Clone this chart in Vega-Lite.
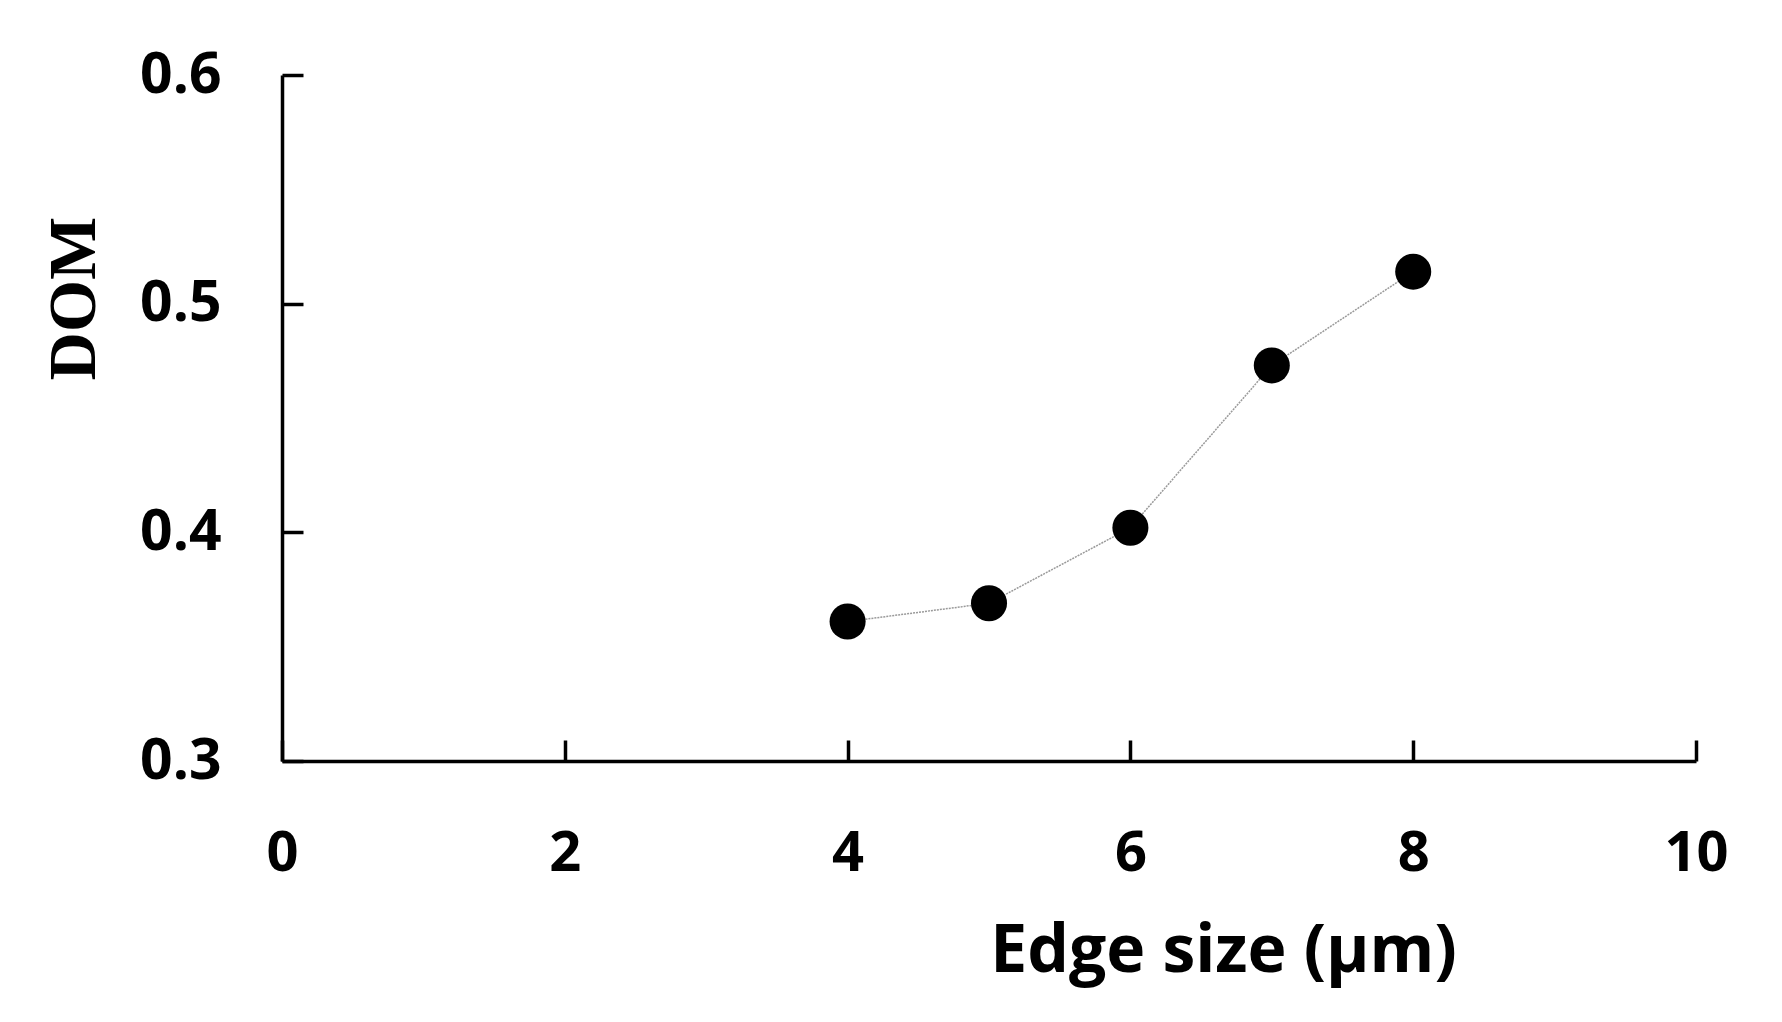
{
  "$schema": "https://vega.github.io/schema/vega-lite/v6.json",
  "width": 1414,
  "height": 686,
  "autosize": {"type": "none"},
  "padding": {"left": 282, "top": 75, "right": 86, "bottom": 261},
  "background": "white",
  "config": {"view": {"stroke": null}},
  "data": {"values": [
    {"edge": 4, "dom": 0.361},
    {"edge": 5, "dom": 0.369},
    {"edge": 6, "dom": 0.402},
    {"edge": 7, "dom": 0.473},
    {"edge": 8, "dom": 0.514}
  ]},
  "encoding": {
    "x": {"field": "edge", "type": "quantitative",
      "scale": {"domain": [0, 10], "nice": false, "zero": false},
      "axis": {"values": [0, 2, 4, 6, 8, 10], "format": "d", "grid": false,
        "domainColor": "black", "domainWidth": 3.5, "tickColor": "black", "tickWidth": 3.5, "tickSize": -21,
        "labelFont": "Open Sans", "labelFontWeight": "bold", "labelFontSize": 56, "labelColor": "black",
        "labelPadding": 86, "labelFlush": false,
        "title": "Edge size (µm)", "titleFont": "Open Sans", "titleFontWeight": "bold", "titleFontSize": 66,
        "titleColor": "black", "titleX": 941, "titleY": 210, "titleBaseline": "alphabetic", "titleAlign": "center"}},
    "y": {"field": "dom", "type": "quantitative",
      "scale": {"domain": [0.3, 0.6], "nice": false, "zero": false},
      "axis": {"values": [0.3, 0.4, 0.5, 0.6], "format": ".1f", "grid": false,
        "domainColor": "black", "domainWidth": 3.5, "tickColor": "black", "tickWidth": 3.5, "tickSize": -21,
        "labelFont": "Open Sans", "labelFontWeight": "bold", "labelFontSize": 57, "labelColor": "black",
        "labelPadding": 82, "labelFlush": false,
        "title": "DOM", "titleFont": "Liberation Serif", "titleFontWeight": "bold", "titleFontSize": 67,
        "titleColor": "black", "titleX": -208, "titleY": 223, "titleAngle": -90, "titleBaseline": "middle", "titleAlign": "center"}}
  },
  "layer": [
    {"mark": {"type": "line", "color": "#9a9a9a", "strokeWidth": 1.5, "strokeDash": [2, 1]}},
    {"mark": {"type": "point", "filled": true, "color": "black", "opacity": 1, "size": 1300, "shape": "circle"}}
  ]
}
